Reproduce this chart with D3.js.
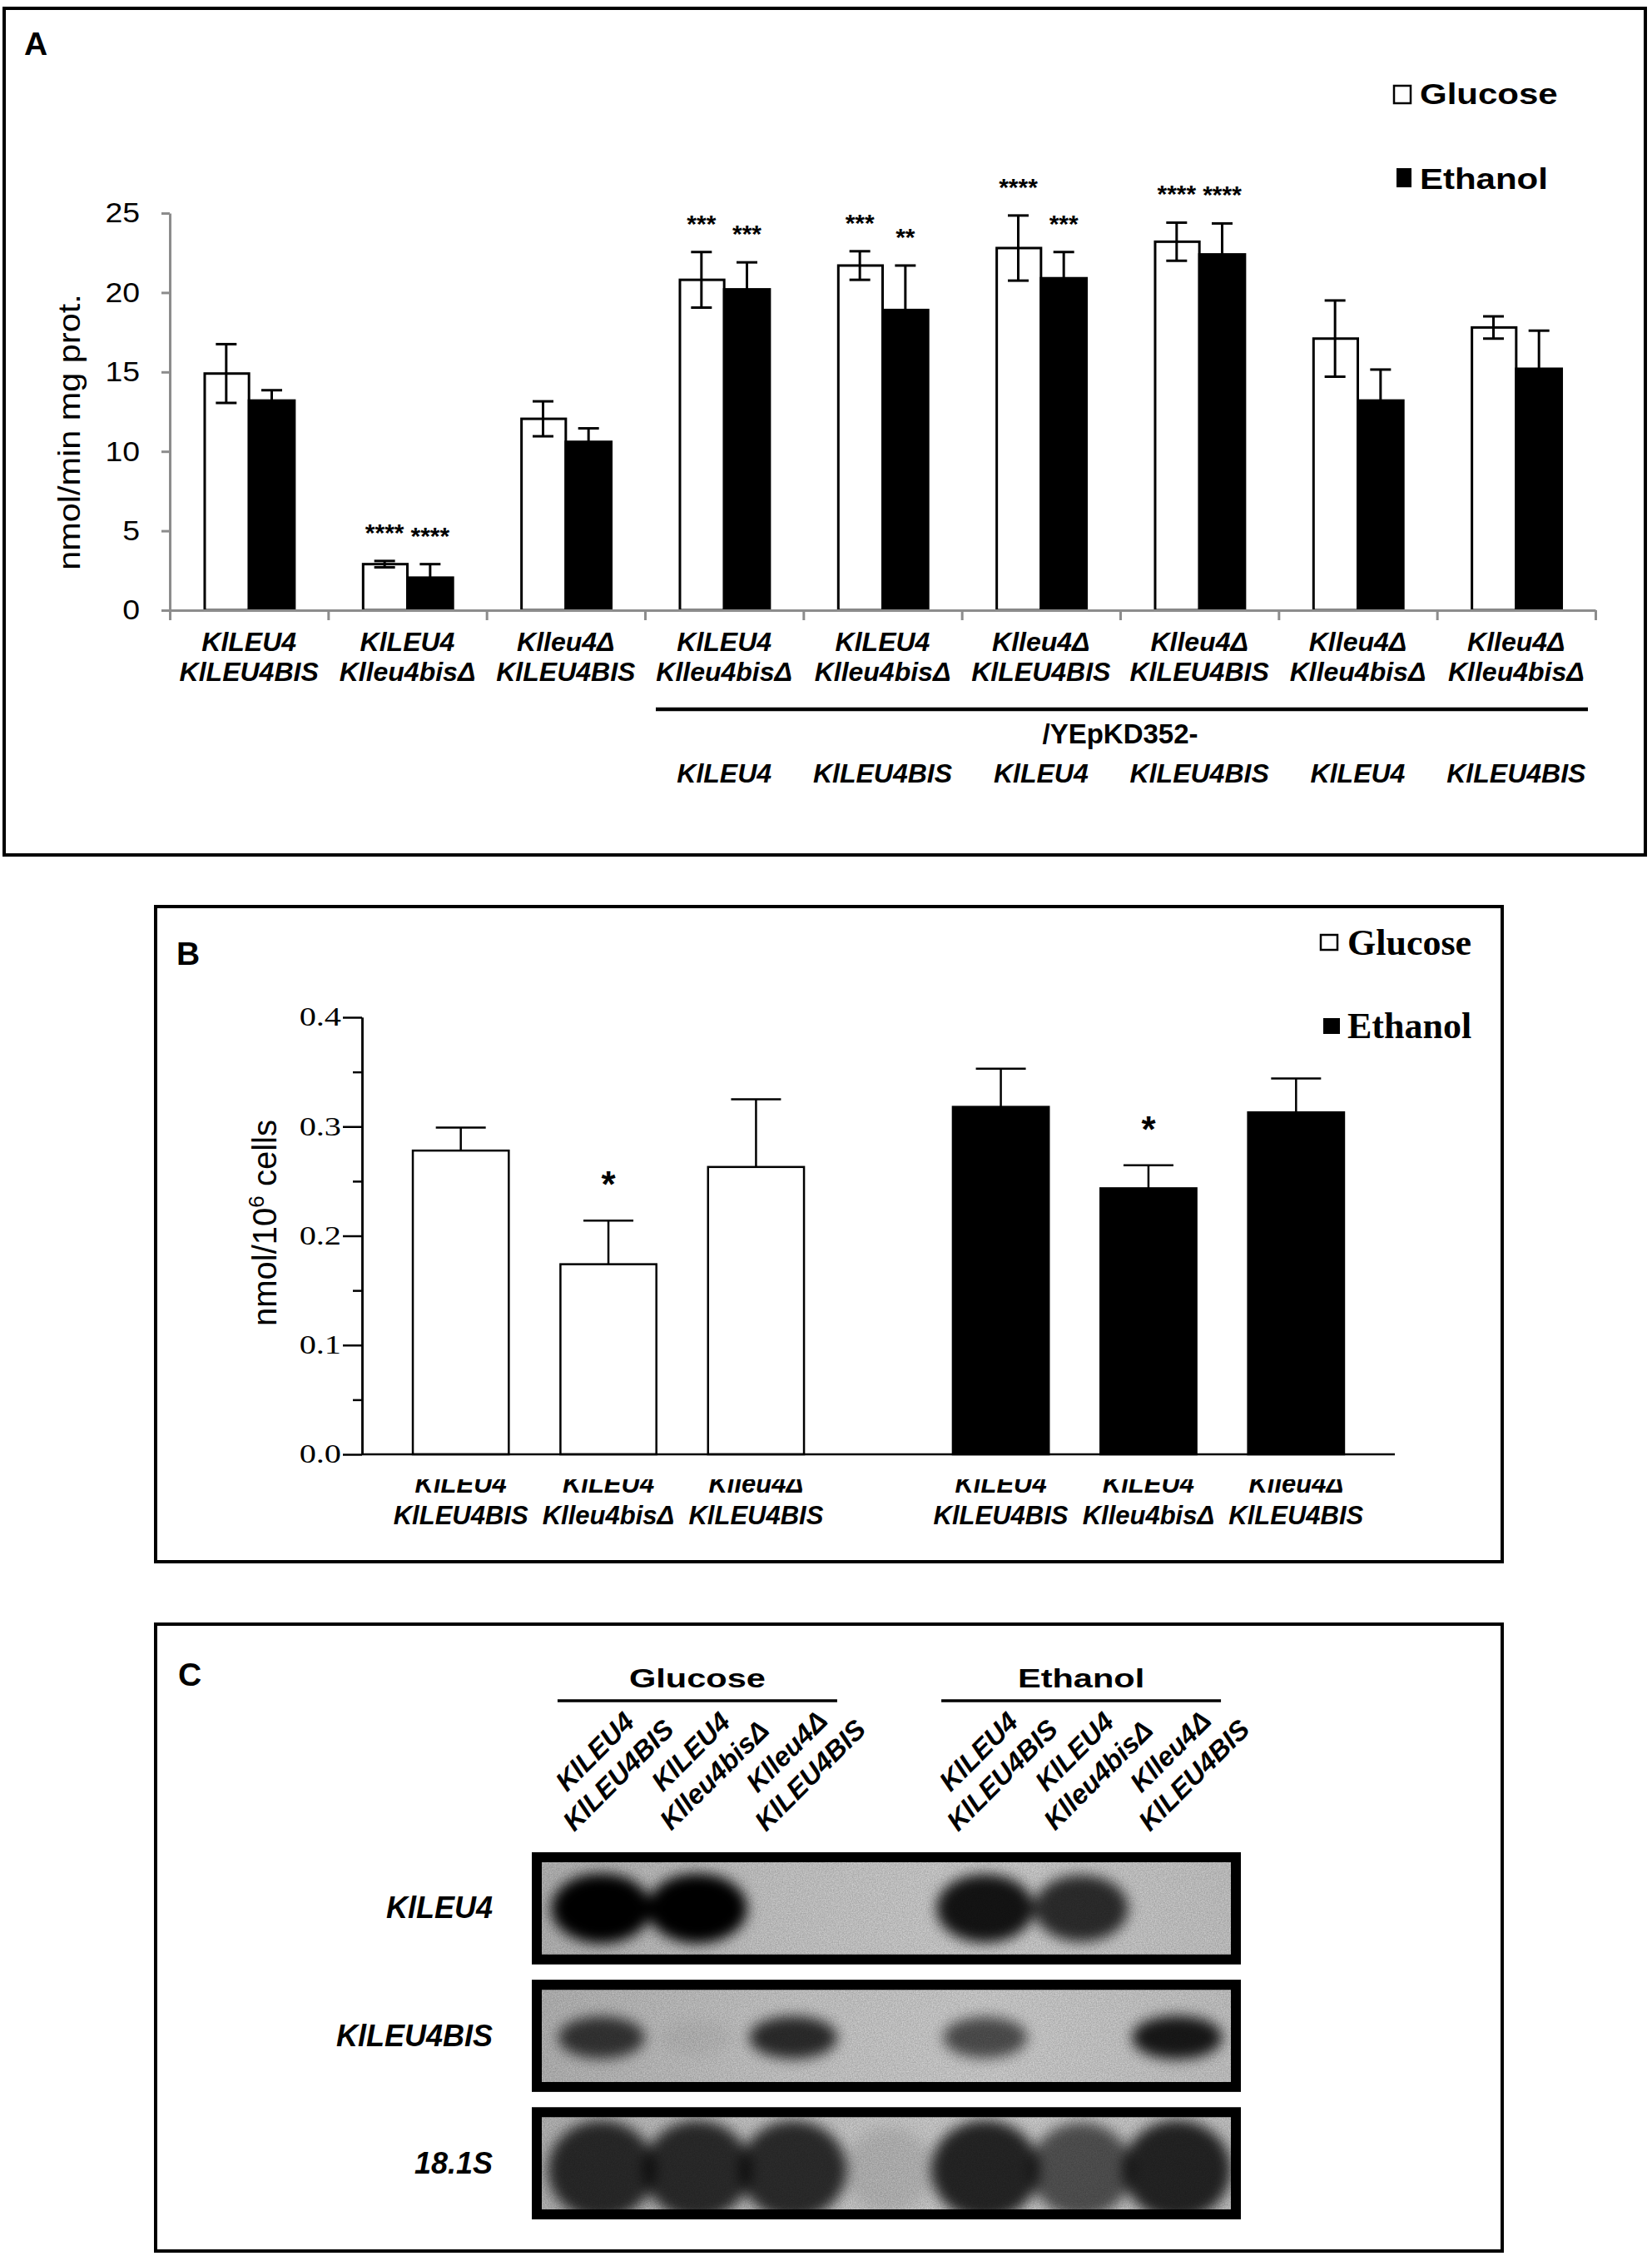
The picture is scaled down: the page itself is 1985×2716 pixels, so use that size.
<!DOCTYPE html>
<html>
<head>
<meta charset="utf-8">
<script src="https://cdn.jsdelivr.net/npm/d3@7"></script>
<style>
  body { margin: 0; background: #fff }
  svg { display: block }
</style>
</head>
<body>
<svg id="fig" width="1985" height="2716"></svg>
<script>
// ---- panel A data ----
const strainsA = [
  ['KlLEU4', 'KlLEU4BIS'], ['KlLEU4', 'Klleu4bisΔ'], ['Klleu4Δ', 'KlLEU4BIS'],
  ['KlLEU4', 'Klleu4bisΔ'], ['KlLEU4', 'Klleu4bisΔ'], ['Klleu4Δ', 'KlLEU4BIS'],
  ['Klleu4Δ', 'KlLEU4BIS'], ['Klleu4Δ', 'Klleu4bisΔ'], ['Klleu4Δ', 'Klleu4bisΔ']
]
const plasmidA = ['', '', '', 'KlLEU4', 'KlLEU4BIS', 'KlLEU4', 'KlLEU4BIS', 'KlLEU4', 'KlLEU4BIS']
const glucoseA = [14.9, 2.9, 12.05, 20.8, 21.7, 22.8, 23.2, 17.1, 17.8]
const glucoseErrA = [1.85, 0.2, 1.1, 1.75, 0.9, 2.05, 1.2, 2.4, 0.7]
const ethanolA = [13.2, 2.05, 10.6, 20.2, 18.9, 20.9, 22.4, 13.2, 15.2]
const ethanolErrA = [0.65, 0.85, 0.85, 1.7, 2.8, 1.65, 1.95, 1.95, 2.4]
const sigGlucoseA = ['', '****', '', '***', '***', '****', '****', '', '']
const sigEthanolA = ['', '****', '', '***', '**', '***', '****', '', '']
const ticksA = [0, 5, 10, 15, 20, 25]

// ---- panel B data ----
const strainsB = [['KlLEU4', 'KlLEU4BIS'], ['KlLEU4', 'Klleu4bisΔ'], ['Klleu4Δ', 'KlLEU4BIS']]
const glucoseB = [0.278, 0.174, 0.263]
const glucoseErrB = [0.021, 0.040, 0.062]
const ethanolB = [0.318, 0.2435, 0.313]
const ethanolErrB = [0.035, 0.021, 0.031]
const sigGlucoseB = ['', '*', '']
const sigEthanolB = ['', '*', '']
const ticksB = [0, 0.1, 0.2, 0.3, 0.4]

// ---- panel C data (band darkness per lane, 0 = no band) ----
const lanesC = ['G1', 'G2', 'G3', 'blank', 'E1', 'E2', 'E3']
const laneLabelsC = [
  ['KlLEU4', 'KlLEU4BIS'], ['KlLEU4', 'Klleu4bisΔ'], ['Klleu4Δ', 'KlLEU4BIS'], null,
  ['KlLEU4', 'KlLEU4BIS'], ['KlLEU4', 'Klleu4bisΔ'], ['Klleu4Δ', 'KlLEU4BIS']
]
const probesC = ['KlLEU4', 'KlLEU4BIS', '18.1S']
const bandsKlLEU4 = [1, 1, 0, 0, 0.9, 0.78, 0]
const bandsKlLEU4BIS = [0.72, 0.05, 0.78, 0, 0.62, 0, 0.88]
const bands181S = [0.78, 0.78, 0.78, 0.1, 0.82, 0.6, 0.82]

const sans = '"Liberation Sans", Arial, sans-serif'
const serif = '"Liberation Serif", "Times New Roman", serif'
const svg = d3.select('#fig').attr('font-family', sans)
svg.append('rect').attr('width', 1985).attr('height', 2716).attr('fill', '#fff')
const defs = svg.append('defs')

const frame = (x, y, w, h) => svg.append('rect')
  .attr('x', x).attr('y', y).attr('width', w).attr('height', h)
  .attr('fill', 'none').attr('stroke', '#000').attr('stroke-width', 4)

// the source figure has its lettering a bit wider than the font: widen about the anchor
const widen = (t, k, rot) => {
  const x = +t.attr('x') || 0
  const y = +t.attr('y') || 0
  t.attr('x', 0).attr('y', 0)
    .attr('transform', `translate(${x},${y})${rot ? ` rotate(${rot})` : ''} scale(${k},1)`)
  return t
}
const widenTicks = (axisG, k) => axisG.selectAll('text')
  .attr('x', function () { return +this.getAttribute('x') / k })
  .attr('transform', `scale(${k},1)`)

const twoLine = (sel, x, y, lines, gap) => {
  lines.forEach((s, k) => sel.append('text').attr('x', x).attr('y', y + k * gap).attr('text-anchor', 'middle').text(s))
}

// ================= A =================
function drawA () {
  const g = svg.append('g')
  frame(5, 10, 1972, 1017)
  g.append('text').attr('x', 29).attr('y', 66).attr('font-size', 39).attr('font-weight', 'bold').text('A')

  const x = d3.scaleBand().domain(d3.range(strainsA.length)).range([204, 1917])
  const xs = d3.scaleBand().domain(['Glucose', 'Ethanol']).range([0, x.bandwidth()]).paddingOuter(0.74)
  const y = d3.scaleLinear().domain([0, 25]).range([733, 256])

  const rows = strainsA.map((s, i) => [
    { i, k: 'Glucose', v: glucoseA[i], e: glucoseErrA[i], sig: sigGlucoseA[i] },
    { i, k: 'Ethanol', v: ethanolA[i], e: ethanolErrA[i], sig: sigEthanolA[i] }
  ]).flat()

  g.selectAll('rect.bar').data(rows).enter().append('rect')
    .attr('x', d => x(d.i) + xs(d.k) + (d.k === 'Glucose' ? 1.5 : 0))
    .attr('y', d => y(d.v))
    .attr('width', d => xs.bandwidth() - (d.k === 'Glucose' ? 1.5 : 0))
    .attr('height', d => y(0) - y(d.v))
    .attr('fill', d => d.k === 'Glucose' ? '#fff' : '#000')
    .attr('stroke', '#000').attr('stroke-width', 3)

  const cx = d => x(d.i) + xs(d.k) + xs.bandwidth() / 2
  const eb = g.selectAll('g.err').data(rows).enter().append('g').attr('stroke', '#000').attr('stroke-width', 3)
  eb.append('line').attr('x1', cx).attr('x2', cx).attr('y1', d => y(d.v - d.e)).attr('y2', d => y(d.v + d.e))
  eb.append('line').attr('x1', d => cx(d) - 12.5).attr('x2', d => cx(d) + 12.5).attr('y1', d => y(d.v + d.e)).attr('y2', d => y(d.v + d.e))
  eb.append('line').attr('x1', d => cx(d) - 12.5).attr('x2', d => cx(d) + 12.5).attr('y1', d => y(d.v - d.e)).attr('y2', d => y(d.v - d.e))

  g.selectAll('text.sig').data(rows.filter(d => d.sig)).enter().append('text')
    .attr('x', cx).attr('y', d => y(d.v + d.e) - 24)
    .attr('text-anchor', 'middle').attr('font-size', 30).attr('font-weight', 'bold').text(d => d.sig)

  // axes
  const yAxis = g.append('g').attr('transform', 'translate(204,0)')
    .call(d3.axisLeft(y).tickValues(ticksA).tickSize(10).tickSizeOuter(0).tickPadding(26))
  yAxis.attr('font-size', 34).attr('font-family', sans)
  yAxis.selectAll('path,line').attr('stroke', '#8c8c8c').attr('stroke-width', 3)
  yAxis.selectAll('text').attr('fill', '#000')
  widenTicks(yAxis, 1.1)

  const xb = d3.scaleLinear().domain([0, strainsA.length]).range(x.range())
  const xAxis = g.append('g').attr('transform', `translate(0,${y(0)})`)
    .call(d3.axisBottom(xb).tickValues(d3.range(strainsA.length + 1)).tickSize(12).tickSizeOuter(0).tickFormat(''))
  xAxis.selectAll('path,line').attr('stroke', '#8c8c8c').attr('stroke-width', 3)

  // category labels
  const lab = g.append('g').attr('font-size', 32).attr('font-weight', 'bold').attr('font-style', 'italic')
  strainsA.forEach((s, i) => {
    twoLine(lab, x(i) + x.bandwidth() / 2, 782, s, 36)
    if (plasmidA[i]) lab.append('text').attr('x', x(i) + x.bandwidth() / 2).attr('y', 940).attr('text-anchor', 'middle').text(plasmidA[i])
  })
  const first = plasmidA.findIndex(p => p)
  g.append('line').attr('x1', x(first) + 13).attr('x2', x.range()[1] - 9).attr('y1', 852).attr('y2', 852)
    .attr('stroke', '#000').attr('stroke-width', 4.5)
  g.append('text').attr('x', (x(first) + x.range()[1]) / 2).attr('y', 893).attr('text-anchor', 'middle')
    .attr('font-size', 33).attr('font-weight', 'bold').text('/YEpKD352-')

  widen(g.append('text').attr('x', 96).attr('y', 519).attr('text-anchor', 'middle')
    .attr('font-size', 37).text('nmol/min mg prot.'), 1.12, -90)

  // legend
  g.append('rect').attr('x', 1675).attr('y', 103).attr('width', 20).attr('height', 21).attr('fill', '#fff').attr('stroke', '#000').attr('stroke-width', 2.5)
  g.append('rect').attr('x', 1678).attr('y', 202).attr('width', 18).attr('height', 23).attr('fill', '#000')
  widen(g.append('text').attr('x', 1706).attr('y', 125).attr('font-size', 35).attr('font-weight', 'bold').text('Glucose'), 1.2)
  widen(g.append('text').attr('x', 1706).attr('y', 227).attr('font-size', 35).attr('font-weight', 'bold').text('Ethanol'), 1.2)
}

// ================= B =================
function drawB () {
  const g = svg.append('g')
  frame(187, 1089, 1618, 787)
  g.append('text').attr('x', 212).attr('y', 1159).attr('font-size', 39).attr('font-weight', 'bold').text('B')

  const y = d3.scaleLinear().domain([0, 0.4]).range([1747, 1222])
  const xo = d3.scaleBand().domain(['Glucose', 'Ethanol']).range([465, 1646]).paddingInner(0.18)
  const xi = d3.scaleBand().domain(d3.range(strainsB.length)).range([0, xo.bandwidth()]).paddingInner(0.35).paddingOuter(0.175)

  const rows = []
  strainsB.forEach((s, i) => rows.push({ i, k: 'Glucose', v: glucoseB[i], e: glucoseErrB[i], sig: sigGlucoseB[i] }))
  strainsB.forEach((s, i) => rows.push({ i, k: 'Ethanol', v: ethanolB[i], e: ethanolErrB[i], sig: sigEthanolB[i] }))
  const cx = d => xo(d.k) + xi(d.i) + xi.bandwidth() / 2

  const eb = g.selectAll('g.err').data(rows).enter().append('g').attr('stroke', '#000').attr('stroke-width', 2.5)
  eb.append('line').attr('x1', cx).attr('x2', cx).attr('y1', d => y(d.v)).attr('y2', d => y(d.v + d.e))
  eb.append('line').attr('x1', d => cx(d) - 30).attr('x2', d => cx(d) + 30).attr('y1', d => y(d.v + d.e)).attr('y2', d => y(d.v + d.e))

  g.selectAll('rect.bar').data(rows).enter().append('rect')
    .attr('x', d => xo(d.k) + xi(d.i))
    .attr('y', d => y(d.v))
    .attr('width', xi.bandwidth())
    .attr('height', d => y(0) - y(d.v))
    .attr('fill', d => d.k === 'Glucose' ? '#fff' : '#000')
    .attr('stroke', '#000').attr('stroke-width', 2.5)

  g.selectAll('text.sig').data(rows.filter(d => d.sig)).enter().append('text')
    .attr('x', cx).attr('y', d => y(d.v + d.e) - 28)
    .attr('text-anchor', 'middle').attr('font-size', 44).attr('font-weight', 'bold').text(d => d.sig)

  // y axis with minor ticks
  const minor = g.append('g').attr('transform', 'translate(435,0)')
    .call(d3.axisLeft(y).tickValues(d3.range(0.05, 0.4, 0.1)).tickSize(11).tickSizeOuter(0).tickFormat(''))
  minor.selectAll('path,line').attr('stroke', '#000').attr('stroke-width', 2.5)
  const yAxis = g.append('g').attr('transform', 'translate(435,0)')
    .call(d3.axisLeft(y).tickValues(ticksB).tickSize(23).tickSizeOuter(0).tickPadding(2).tickFormat(d3.format('.1f')))
  yAxis.attr('font-size', 31).attr('font-family', serif)
  yAxis.selectAll('path,line').attr('stroke', '#000').attr('stroke-width', 2.5)
  yAxis.selectAll('text').attr('fill', '#000')
  widenTicks(yAxis, 1.3)

  g.append('line').attr('x1', 435).attr('x2', 1676).attr('y1', y(0)).attr('y2', y(0)).attr('stroke', '#000').attr('stroke-width', 2.5)

  // labels, first line clipped by the axis area
  defs.append('clipPath').attr('id', 'clipB').append('rect').attr('x', 400).attr('y', 1777).attr('width', 1300).attr('height', 90)
  const lab = g.append('g').attr('clip-path', 'url(#clipB)')
    .attr('font-size', 31).attr('font-weight', 'bold').attr('font-style', 'italic')
  rows.forEach(d => twoLine(lab, cx(d), 1793, strainsB[d.i], 38))

  const yl = g.append('text').attr('transform', 'translate(332,1469) rotate(-90)').attr('text-anchor', 'middle').attr('font-size', 40)
  yl.append('tspan').text('nmol/10')
  yl.append('tspan').attr('font-size', 26).attr('dy', -15).text('6')
  yl.append('tspan').attr('dy', 15).text(' cells')

  // legend
  g.append('rect').attr('x', 1587).attr('y', 1123).attr('width', 20).attr('height', 18).attr('fill', '#fff').attr('stroke', '#000').attr('stroke-width', 2.5)
  g.append('rect').attr('x', 1590).attr('y', 1223).attr('width', 20).attr('height', 19).attr('fill', '#000')
  g.append('text').attr('x', 1619).attr('y', 1147).attr('font-family', serif).attr('font-size', 44).attr('font-weight', 'bold').text('Glucose')
  g.append('text').attr('x', 1619).attr('y', 1247).attr('font-family', serif).attr('font-size', 44).attr('font-weight', 'bold').text('Ethanol')
}

// ================= C =================
function drawC () {
  const g = svg.append('g')
  frame(187, 1951, 1618, 753)
  g.append('text').attr('x', 214).attr('y', 2025).attr('font-size', 39).attr('font-weight', 'bold').text('C')

  const lx = d3.scaleBand().domain(lanesC).range([665, 1472])
  const lc = l => lx(l) + lx.bandwidth() / 2
  const py = d3.scaleBand().domain(probesC).range([2225, 2666]).paddingInner(0.12)
  const bandData = { KlLEU4: bandsKlLEU4, KlLEU4BIS: bandsKlLEU4BIS, '18.1S': bands181S }
  const bandShape = { KlLEU4: { rx: 60, ry: 42, dy: 0 }, KlLEU4BIS: { rx: 56, ry: 27, dy: 2 }, '18.1S': { rx: 68, ry: 62, dy: 8 } }

  // condition headers
  const groups = [['Glucose', lanesC.slice(0, 3)], ['Ethanol', lanesC.slice(4)]]
  groups.forEach(([name, ls]) => {
    const c = d3.mean(ls, lc)
    widen(g.append('text').attr('x', c).attr('y', 2027).attr('text-anchor', 'middle').attr('font-size', 31).attr('font-weight', 'bold').text(name), 1.34)
    g.append('line').attr('x1', c - 168).attr('x2', c + 168).attr('y1', 2043).attr('y2', 2043).attr('stroke', '#000').attr('stroke-width', 3.5)
  })

  // lane labels
  const ll = g.append('g').attr('font-size', 33).attr('font-weight', 'bold').attr('font-style', 'italic')
  lanesC.forEach((l, i) => {
    if (!laneLabelsC[i]) return
    const t = ll.append('text').attr('transform', `translate(${lc(l)},2112) rotate(-45)`).attr('text-anchor', 'middle')
    laneLabelsC[i].forEach((s, k) => t.append('tspan').attr('x', 0).attr('y', k * 40).text(s))
  })

  // filters
  const blur = defs.append('filter').attr('id', 'blur').attr('x', '-50%').attr('y', '-50%').attr('width', '200%').attr('height', '200%')
  blur.append('feGaussianBlur').attr('stdDeviation', 8)
  const grain = defs.append('filter').attr('id', 'grain')
  grain.append('feTurbulence').attr('type', 'fractalNoise').attr('baseFrequency', 0.7).attr('numOctaves', 2).attr('seed', 4)
  grain.append('feColorMatrix').attr('type', 'matrix').attr('values', '0 0 0 0 0  0 0 0 0 0  0 0 0 0 0  0.3 0 0 0 -0.05')
  const grad = defs.append('linearGradient').attr('id', 'gel')
  grad.append('stop').attr('offset', '0%').attr('stop-color', '#b8b8b8')
  grad.append('stop').attr('offset', '35%').attr('stop-color', '#cbcbcb')
  grad.append('stop').attr('offset', '65%').attr('stop-color', '#d3d3d3')
  grad.append('stop').attr('offset', '100%').attr('stop-color', '#c8c8c8')

  probesC.forEach((p, r) => {
    const top = py(p)
    const h = py.bandwidth()
    const x0 = lx.range()[0] - 26
    const w = lx.range()[1] - lx.range()[0] + 45
    g.append('rect').attr('x', x0).attr('y', top).attr('width', w).attr('height', h).attr('fill', '#000')
    const id = 'gelclip' + r
    defs.append('clipPath').attr('id', id).append('rect').attr('x', x0 + 12).attr('y', top + 12).attr('width', w - 24).attr('height', h - 24)
    const gel = g.append('g').attr('clip-path', `url(#${id})`)
    gel.append('rect').attr('x', x0).attr('y', top).attr('width', w).attr('height', h).attr('fill', 'url(#gel)')
    gel.append('rect').attr('x', x0).attr('y', top).attr('width', w).attr('height', h).attr('filter', 'url(#grain)')
    const sh = bandShape[p]
    gel.append('g').attr('filter', 'url(#blur)').selectAll('ellipse')
      .data(lanesC.map((l, i) => ({ l, v: bandData[p][i] })).filter(d => d.v > 0))
      .enter().append('ellipse')
      .attr('cx', d => lc(d.l))
      .attr('cy', top + h / 2 + sh.dy)
      .attr('rx', d => sh.rx * (0.75 + 0.25 * d.v))
      .attr('ry', d => sh.ry * (0.8 + 0.2 * d.v))
      .attr('fill', '#050505').attr('fill-opacity', d => d.v)

    g.append('text').attr('x', 592).attr('y', top + h / 2 + 12).attr('text-anchor', 'end')
      .attr('font-size', 36).attr('font-weight', 'bold').attr('font-style', 'italic').text(p)
  })
}

drawA()
drawB()
drawC()
</script>
</body>
</html>
